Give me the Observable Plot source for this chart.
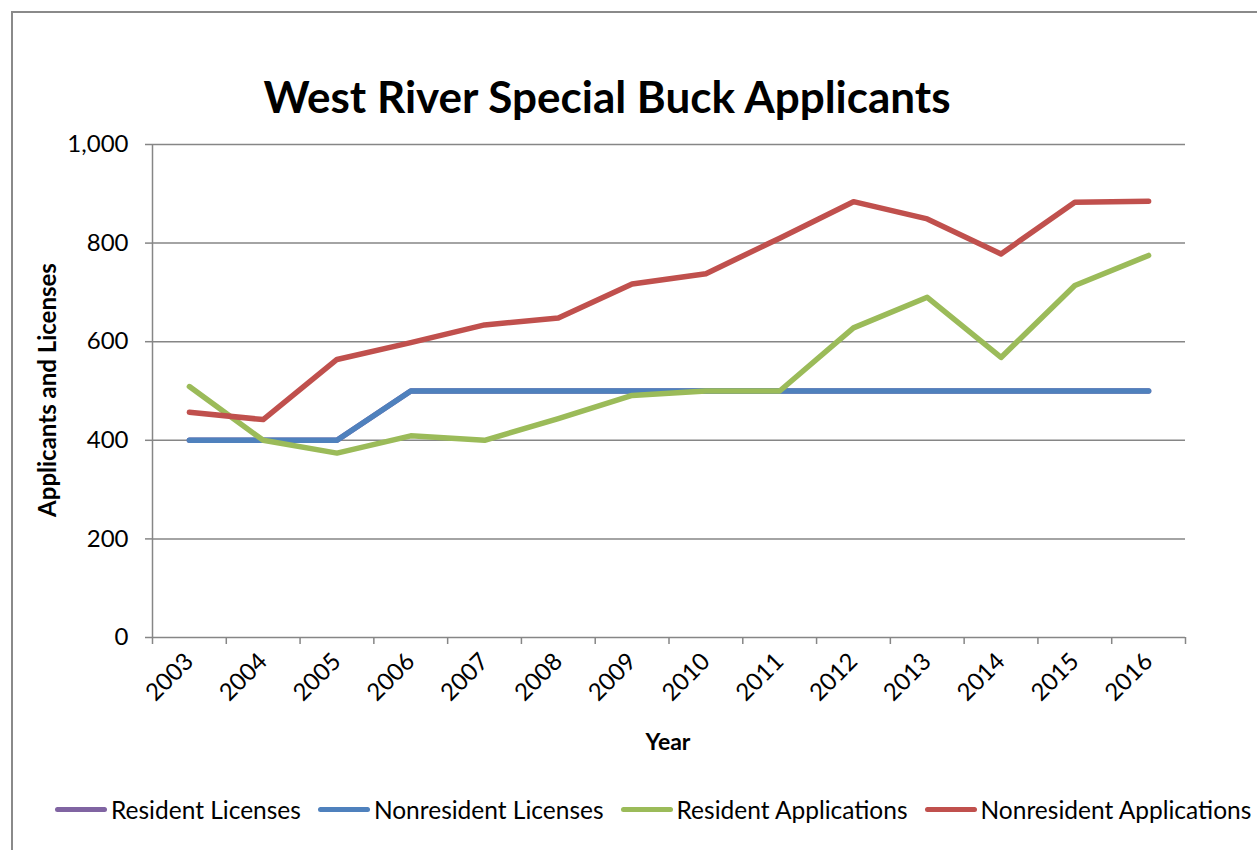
<!DOCTYPE html>
<html>
<head>
<meta charset="utf-8">
<script src="https://cdn.jsdelivr.net/npm/d3@7"></script>
<script src="https://cdn.jsdelivr.net/npm/@observablehq/plot@0.6"></script>
<style>
  html, body { margin: 0; padding: 0; background: #fff; overflow: hidden; }
  #wrap { position: relative; width: 1257px; height: 850px; font-family: Lato, "Open Sans", sans-serif; color: #000; }
  #frame { position: absolute; left: 11px; top: 11px; width: 1400px; height: 1000px; border: 2px solid #8a8a8a; box-sizing: border-box; }
  #title { position: absolute; left: 0; width: 1214px; top: 70px; text-align: center; font-weight: bold; font-size: 44px; white-space: nowrap; }
  #chart { position: absolute; left: 0; top: 0; }
  #ylab { position: absolute; left: 46px; top: 390px; transform: translate(-50%, -50%) rotate(-90deg); font-weight: bold; font-size: 24px; white-space: nowrap; }
  #xlab { position: absolute; left: 668px; top: 741px; transform: translate(-50%, -50%); font-weight: bold; font-size: 23px; }
  #legend { position: absolute; left: 55px; top: 795px; display: flex; align-items: center; font-size: 24.5px; white-space: nowrap; }
  .item { display: flex; align-items: center; margin-right: 17px; }
  .sw { width: 52px; height: 5.5px; border-radius: 3px; margin-right: 4px; }
</style>
</head>
<body>
<div id="wrap">
  <div id="frame"></div>
  <div id="title">West River Special Buck Applicants</div>
  <div id="chart"></div>
  <div id="ylab">Applicants and Licenses</div>
  <div id="xlab">Year</div>
  <div id="legend"></div>
</div>
<script>
const years = [2003, 2004, 2005, 2006, 2007, 2008, 2009, 2010, 2011, 2012, 2013, 2014, 2015, 2016];
const seriesNames = ["Resident Licenses", "Nonresident Licenses", "Resident Applications", "Nonresident Applications"];
const seriesColors = ["#8064A2", "#4F81BD", "#9BBB59", "#C0504D"];
const residentLicenses = [400, 400, 400, 500, 500, 500, 500, 500, 500, 500, 500, 500, 500, 500];
const nonresidentLicenses = [400, 400, 400, 500, 500, 500, 500, 500, 500, 500, 500, 500, 500, 500];
const residentApplications = [509, 400, 374, 409, 400, 444, 491, 500, 500, 628, 690, 568, 714, 775];
const nonresidentApplications = [457, 442, 564, 598, 634, 648, 717, 738, 810, 884, 849, 778, 883, 885];
const yTicks = [0, 200, 400, 600, 800, 1000];

const seriesValues = [residentLicenses, nonresidentLicenses, residentApplications, nonresidentApplications];
const rows = [];
seriesNames.forEach((name, i) => {
  years.forEach((yr, j) => rows.push({series: name, year: yr, value: seriesValues[i][j]}));
});
const boundaries = [...years.map(y => y - 0.5), years[years.length - 1] + 0.5];
const gray = "#868686";

const chart = Plot.plot({
  width: 1257,
  height: 780,
  marginTop: 144,
  marginBottom: 143,
  marginLeft: 152,
  marginRight: 72,
  style: {fontFamily: "Lato, 'Open Sans', sans-serif", fontSize: "24px", color: "#000", background: "transparent", overflow: "visible"},
  x: {type: "linear", domain: [years[0] - 0.5, years[years.length - 1] + 0.5], label: null},
  y: {domain: [0, 1000], label: null},
  color: {domain: seriesNames, range: seriesColors},
  marks: [
    Plot.ruleY(yTicks, {stroke: gray, strokeWidth: 1.5, strokeOpacity: 1}),
    Plot.ruleX([boundaries[0]], {stroke: gray, strokeWidth: 1.5}),
    Plot.axisY({ticks: yTicks, tickFormat: d3.format(","), tickSize: 7, tickPadding: 17, stroke: gray, strokeWidth: 1.5, label: null}),
    Plot.axisX({ticks: boundaries, tickSize: 7, tickFormat: () => "", stroke: gray, strokeWidth: 1.5, label: null}),
    Plot.axisX({ticks: years, tickSize: 0, tickRotate: -45, tickPadding: 20, tickFormat: d => String(d), label: null}),
    Plot.line(rows, {x: "year", y: "value", z: "series", stroke: "series", strokeWidth: 5.5, strokeLinecap: "round", strokeLinejoin: "round"})
  ]
});
document.getElementById("chart").appendChild(chart);

const legend = document.getElementById("legend");
seriesNames.forEach((name, i) => {
  const item = document.createElement("div");
  item.className = "item";
  const sw = document.createElement("div");
  sw.className = "sw";
  sw.style.background = seriesColors[i];
  const t = document.createElement("span");
  t.textContent = name;
  item.appendChild(sw);
  item.appendChild(t);
  legend.appendChild(item);
});
</script>
</body>
</html>
